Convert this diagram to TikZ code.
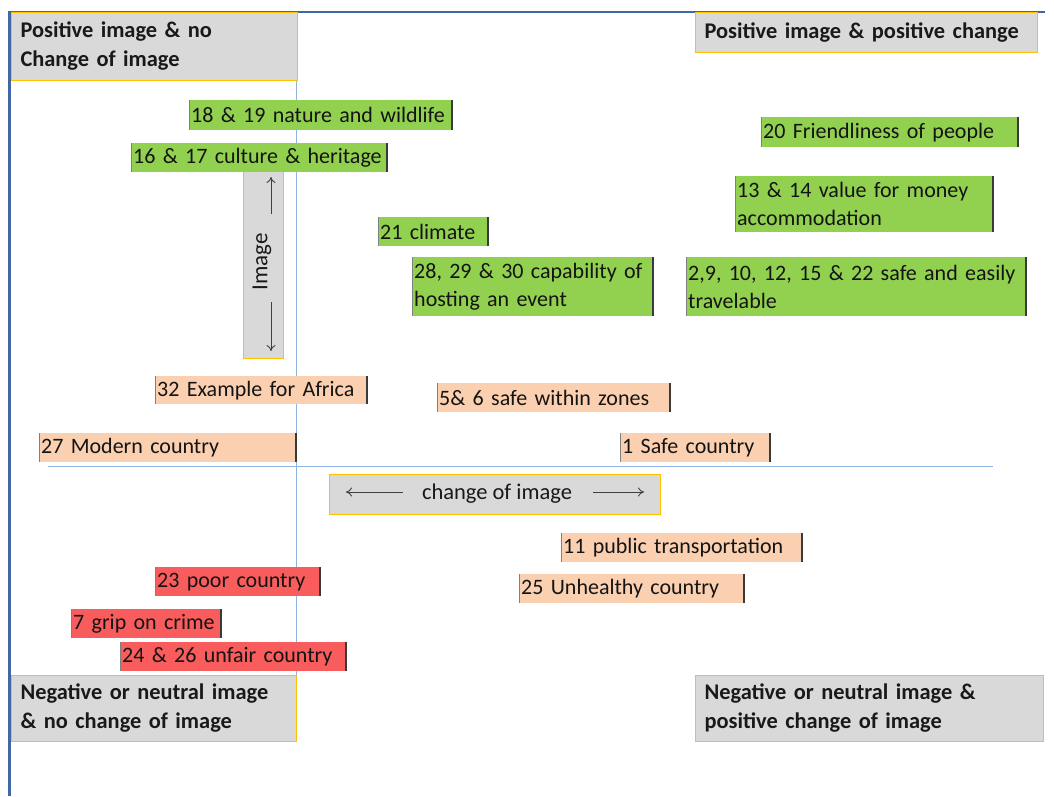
\documentclass[tikz,border=0pt]{standalone}
\usepackage{fontspec}
\setmainfont{Carlito}
\usetikzlibrary{arrows.meta}
\definecolor{axisblue}{HTML}{4167A4}
\definecolor{gridblue}{HTML}{8FB3E0}
\definecolor{qgray}{HTML}{D9D9D9}
\definecolor{qgold}{HTML}{FFC000}
\definecolor{lgreen}{HTML}{92D050}
\definecolor{lpeach}{HTML}{FBD0B0}
\definecolor{lred}{HTML}{F95C5C}
\definecolor{barc}{HTML}{3A3A3A}
\newcommand\lblfont{\fontsize{22}{28}\selectfont}
\newcommand\qfont{\fontsize{22.4}{29}\selectfont\bfseries}

\begin{document}
\begin{tikzpicture}[x=1pt,y=-1pt,
  quad/.style={fill=qgray,draw=qgold,line width=1pt,anchor=north west,
    inner xsep=9pt,inner ysep=0pt,align=left,font=\qfont,text=black!90},
  lbar/.style={draw=gray,line width=0.8pt},
  rbar/.style={draw=barc,line width=2pt},
  lab/.style={anchor=north west,inner xsep=2pt,inner ysep=0pt,align=left,
    font=\lblfont,text=black!92,
    append after command={(\tikzlastnode.north west) edge[lbar] (\tikzlastnode.south west)
                          (\tikzlastnode.north east) edge[rbar] (\tikzlastnode.south east)}},
  good/.style={lab,fill=lgreen},
  mid/.style={lab,fill=lpeach},
  bad/.style={lab,fill=lred},
  tip/.style={draw=black!75,line width=0.9pt,-{To[length=6pt,width=9pt]}},
  grid/.style={draw=gridblue,line width=1pt},
  axis/.style={draw=axisblue,line width=2.5pt}
]
\useasboundingbox (0,0) rectangle (1054,796);

% quadrant dividers
\coordinate (vtop) at (296,70);
\coordinate (vbot) at (296,741);
\coordinate (hleft) at (48,466);
\coordinate (hright) at (993,466);
\path[grid] (vtop) -- (vbot);
\path[grid] (hleft) -- (hright);

% outer axes
\coordinate (origin) at (9.5,12);
\coordinate (ybot) at (9.5,796);
\coordinate (xend) at (1045,12);
\path[axis] (ybot) -- (origin) -- (xend);

% quadrant titles
\node[quad,minimum height=68pt,text width=268pt] (tl) at (11,12)
  {Positive image \& no\\Change of image};
\node[quad,minimum height=40pt,text width=324pt] (tr) at (695,12)
  {\mbox{Positive image \& positive change}};
\node[quad,minimum height=66pt,text width=267pt] (bl) at (11,675)
  {\mbox{Negative or neutral image}\\\& no change of image};
\node[quad,minimum height=66pt,text width=330pt] (br) at (695,675)
  {\mbox{Negative or neutral image \&}\\positive change of image};

% image axis label
\node[fill=qgray,draw=qgold,line width=1pt,minimum width=40pt,minimum height=188pt,inner sep=0pt] (imgbox) at (263,264) {};
\node[rotate=90,font=\fontsize{23}{28}\selectfont,text=black!90,inner sep=0pt] (imgtxt) at (262,262) {Image};
\coordinate (iu1) at (271,214);
\coordinate (iu2) at (271,177);
\coordinate (id1) at (271,302);
\coordinate (id2) at (271,351);
\draw[tip] (iu1) -- (iu2);
\draw[tip] (id1) -- (id2);

% change axis label
\node[fill=qgray,draw=qgold,line width=1pt,minimum width=331pt,minimum height=40pt,inner sep=0pt] (chgbox) at (494.5,494) {};
\node[font=\fontsize{22.5}{28}\selectfont,text=black!90,inner sep=0pt] (chgtxt) at (497,494) {change of image};
\coordinate (cl1) at (403,492);
\coordinate (cl2) at (346,492);
\coordinate (cr1) at (593,492);
\coordinate (cr2) at (644,492);
\draw[tip] (cl1) -- (cl2);
\draw[tip] (cr1) -- (cr2);

% positive image items
\node[good,minimum height=30pt,text width=259pt] (n1819) at (189,100) {\mbox{18 \& 19 nature and wildlife}};
\node[good,minimum height=29pt,text width=252pt] (n1617) at (131,143) {\mbox{16 \& 17 culture \& heritage}};
\node[good,minimum height=30pt,text width=253pt] (n20) at (761,117) {20 Friendliness of people};
\node[good,minimum height=56pt,text width=254pt] (n1314) at (735,176) {13 \& 14 value for money\\accommodation};
\node[good,minimum height=29pt,text width=106pt] (n21) at (378,217) {21 climate};
\node[good,minimum height=59pt,text width=237pt] (n2830) at (412,257) {\mbox{28, 29 \& 30 capability of}\\hosting an event};
\node[good,minimum height=59pt,text width=336pt] (nsafe) at (686,257) {\mbox{2,9, 10, 12, 15 \& 22 safe and easily}\\travelable};

% neutral items
\node[mid,minimum height=28pt,text width=208pt] (n32) at (155,376) {\mbox{32 Example for Africa}};
\node[mid,minimum height=29pt,text width=229pt] (n56) at (437,383) {5\& 6 safe within zones};
\node[mid,minimum height=29pt,text width=253pt] (n27) at (39,433) {27 Modern country};
\node[mid,minimum height=29pt,text width=146pt] (n1) at (620,433) {1 Safe country};
\node[mid,minimum height=29pt,text width=237pt] (n11) at (561,533) {\mbox{11 public transportation}};
\node[mid,minimum height=29pt,text width=221pt] (n25) at (519,574) {25 Unhealthy country};

% negative items
\node[bad,minimum height=29pt,text width=161pt] (n23) at (155,567) {23 poor country};
\node[bad,minimum height=29pt,text width=146pt] (n7) at (71,609) {7 grip on crime};
\node[bad,minimum height=29pt,text width=222pt] (n2426) at (120,642) {\mbox{24 \& 26 unfair country}};
\end{tikzpicture}
\end{document}
